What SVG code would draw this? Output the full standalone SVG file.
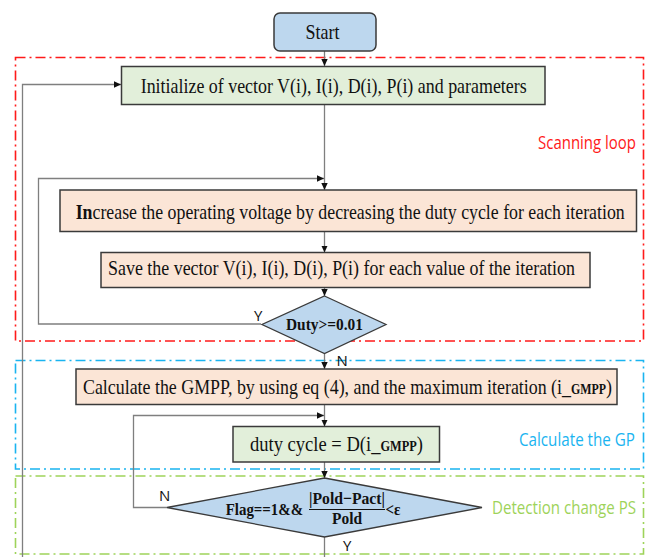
<svg xmlns="http://www.w3.org/2000/svg" width="649" height="557" viewBox="0 0 649 557">
  <style>
    .box { stroke: #3a3a3a; stroke-width: 1.5; }
    .start { fill: #bdd7ee; }
    .green { fill: #e2efda; }
    .peach { fill: #fbe5d6; }
    .dec { fill: #bdd7ee; stroke: #3a3a3a; stroke-width: 1.3; }
    .t { font-family: "Liberation Serif", "Times New Roman", serif; font-size: 21px; fill: #111; }
    .tb { font-family: "Liberation Serif", "Times New Roman", serif; font-weight: bold; fill: #111; }
    .sub { font-weight: bold; font-size: 14px; }
    .lbl { font-family: "Open Sans", "Liberation Sans", sans-serif; font-size: 15px; fill: #111; }
    .zone { font-family: "Open Sans", "Liberation Sans", sans-serif; font-size: 18px; }
    .flow { fill: none; stroke: #7f7f7f; stroke-width: 1.3; }
    .frame { fill: none; stroke-width: 1.6; stroke-dasharray: 10 4 2 4; }
  </style>
  <defs>
    <marker id="arr" markerWidth="8" markerHeight="8" refX="7" refY="4" orient="auto" markerUnits="userSpaceOnUse">
      <path d="M0,0.8 L7,4 L0,7.2 Z" fill="#111"/>
    </marker>
  </defs>

  <!-- section frames -->
  <g id="frames">
    <rect class="frame" x="15.5" y="57.5" width="628" height="283.5" stroke="#ff1a1a"/>
    <rect class="frame" x="15.5" y="360.5" width="628" height="108.5" stroke="#1ab4f0"/>
    <rect class="frame" x="15.5" y="476" width="628" height="78" stroke="#9ed35a"/>
    <text class="zone" x="538" y="149" fill="#ff1a1a" textLength="98" lengthAdjust="spacingAndGlyphs">Scanning loop</text>
    <text class="zone" x="519" y="446" fill="#1ab4f0" textLength="116" lengthAdjust="spacingAndGlyphs">Calculate the GP</text>
    <text class="zone" x="492" y="514" fill="#9ed35a" textLength="144" lengthAdjust="spacingAndGlyphs">Detection change PS</text>
  </g>

  <!-- connectors -->
  <g id="connectors">
    <path class="flow" d="M324.5,51 V66" marker-end="url(#arr)"/>
    <path class="flow" d="M22.5,557 V84.5 H121" marker-end="url(#arr)"/>
    <path class="flow" d="M324.5,104.5 V190" marker-end="url(#arr)"/>
    <path class="flow" d="M261,324 H38.5 V178.5 H324" marker-end="url(#arr)"/>
    <path class="flow" d="M324.5,231.5 V252.5" marker-end="url(#arr)"/>
    <path class="flow" d="M324.5,287.5 V296" marker-end="url(#arr)"/>
    <path class="flow" d="M324.5,353.5 V369" marker-end="url(#arr)"/>
    <path class="flow" d="M324.5,404.5 V426.5" marker-end="url(#arr)"/>
    <path class="flow" d="M167,507.5 H133.5 V415.5 H324" marker-end="url(#arr)"/>
    <path class="flow" d="M324.5,462 V478" marker-end="url(#arr)"/>
    <path class="flow" d="M324.5,537 V557"/>
    <text class="lbl" x="254" y="321">Y</text>
    <text class="lbl" x="336.5" y="366">N</text>
    <text class="lbl" x="159" y="501">N</text>
    <text class="lbl" x="343" y="551">Y</text>
  </g>

  <g id="start">
    <rect class="box start" x="274" y="13" width="102" height="38" rx="6"/>
    <text class="t" x="305.5" y="39" textLength="34" lengthAdjust="spacingAndGlyphs">Start</text>
  </g>

  <g id="init">
    <rect class="box green" x="121.5" y="66.5" width="423.5" height="38"/>
    <text class="t" x="140.7" y="92.5" textLength="386" lengthAdjust="spacingAndGlyphs">Initialize of vector V(i), I(i), D(i), P(i) and parameters</text>
  </g>

  <g id="increase">
    <rect class="box peach" x="60" y="190" width="576.5" height="41.5"/>
    <text class="t" x="75.7" y="219" textLength="549" lengthAdjust="spacingAndGlyphs"><tspan font-weight="bold">In</tspan>crease the operating voltage by decreasing the duty cycle  for each iteration</text>
  </g>

  <g id="save">
    <rect class="box peach" x="101" y="252.5" width="489" height="35"/>
    <text class="t" x="108" y="275" textLength="467" lengthAdjust="spacingAndGlyphs">Save the vector V(i), I(i), D(i), P(i) for each value of the iteration</text>
  </g>

  <g id="duty-check">
    <polygon class="dec" points="324.5,296 386,324.5 324.5,353.5 262,324.5"/>
    <text class="tb" font-size="16" x="286" y="330" textLength="77" lengthAdjust="spacingAndGlyphs">Duty&gt;=0.01</text>
  </g>

  <g id="gmpp">
    <rect class="box peach" x="76" y="369" width="541" height="35.5"/>
    <text class="t" x="83" y="394" textLength="529" lengthAdjust="spacingAndGlyphs">Calculate the GMPP, by using eq (4), and the maximum iteration (i_<tspan class="sub">GMPP</tspan>)</text>
  </g>

  <g id="duty-set">
    <rect class="box green" x="233" y="426.5" width="206.5" height="35.5"/>
    <text class="t" x="250" y="451" textLength="173" lengthAdjust="spacingAndGlyphs">duty cycle = D(i_<tspan class="sub">GMPP</tspan>)</text>
  </g>

  <g id="flag-check">
    <polygon class="dec" points="324.5,478 482,507.5 324.5,537 167,507.5"/>
    <text class="tb" font-size="17.5" x="225.7" y="515" textLength="77.5" lengthAdjust="spacingAndGlyphs">Flag==1&amp;&amp;</text>
    <text class="tb" font-size="17.5" x="309" y="504" textLength="76" lengthAdjust="spacingAndGlyphs">|Pold−Pact|</text>
    <line x1="309" y1="509.5" x2="385" y2="509.5" stroke="#111" stroke-width="1"/>
    <text class="tb" font-size="17.5" x="332" y="523.5" textLength="30" lengthAdjust="spacingAndGlyphs">Pold</text>
    <text class="tb" font-size="17.5" x="385.5" y="515" textLength="15" lengthAdjust="spacingAndGlyphs">&lt;ε</text>
  </g>
</svg>
